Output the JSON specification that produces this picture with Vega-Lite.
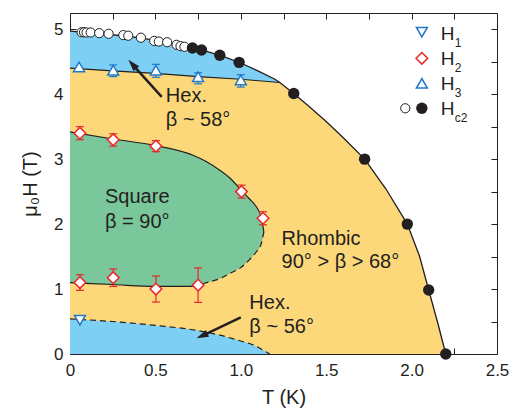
{
  "$schema": "https://vega.github.io/schema/vega-lite/v6.json",
  "width": 427,
  "height": 341,
  "autosize": {"type": "none"},
  "padding": {"left": 70, "top": 13, "right": 14, "bottom": 54},
  "config": {
    "font": "Liberation Sans",
    "view": {"stroke": null},
    "axis": {
      "domainColor": "#231f20", "tickColor": "#231f20", "labelColor": "#231f20", "titleColor": "#231f20",
      "labelFontSize": 17, "titleFontSize": 20, "titleFontWeight": "normal", "grid": false,
      "tickSize": -6, "zindex": 1, "labelFlush": false, "labelOverlap": false, "domainWidth": 1, "tickWidth": 1
    }
  },
  "datasets": {
    "bounds": [
      {"c": "hc2", "T": 0, "H": 4.97}, {"c": "hc2", "T": 0.1, "H": 4.95}, {"c": "hc2", "T": 0.2, "H": 4.93},
      {"c": "hc2", "T": 0.3, "H": 4.9}, {"c": "hc2", "T": 0.4, "H": 4.87}, {"c": "hc2", "T": 0.5, "H": 4.83},
      {"c": "hc2", "T": 0.6, "H": 4.78}, {"c": "hc2", "T": 0.7, "H": 4.72}, {"c": "hc2", "T": 0.8, "H": 4.66},
      {"c": "hc2", "T": 0.9, "H": 4.58}, {"c": "hc2", "T": 1.0, "H": 4.48}, {"c": "hc2", "T": 1.1, "H": 4.36},
      {"c": "hc2", "T": 1.2, "H": 4.23}, {"c": "hc2", "T": 1.228, "H": 4.18}, {"c": "hc2", "T": 1.31, "H": 4.01},
      {"c": "hc2", "T": 1.4, "H": 3.81}, {"c": "hc2", "T": 1.5, "H": 3.58}, {"c": "hc2", "T": 1.6, "H": 3.33},
      {"c": "hc2", "T": 1.725, "H": 3.0}, {"c": "hc2", "T": 1.85, "H": 2.54}, {"c": "hc2", "T": 1.975, "H": 2.0},
      {"c": "hc2", "T": 2.047, "H": 1.5}, {"c": "hc2", "T": 2.1, "H": 0.985}, {"c": "hc2", "T": 2.154, "H": 0.47},
      {"c": "hc2", "T": 2.2, "H": 0},
      {"c": "h3", "T": 0, "H": 4.4}, {"c": "h3", "T": 0.25, "H": 4.36}, {"c": "h3", "T": 0.5, "H": 4.32},
      {"c": "h3", "T": 0.75, "H": 4.27}, {"c": "h3", "T": 1.0, "H": 4.23}, {"c": "h3", "T": 1.228, "H": 4.18},
      {"c": "hexlow", "T": 0, "H": 0.54}, {"c": "hexlow", "T": 0.25, "H": 0.5}, {"c": "hexlow", "T": 0.5, "H": 0.44},
      {"c": "hexlow", "T": 0.75, "H": 0.36}, {"c": "hexlow", "T": 0.877, "H": 0.29}, {"c": "hexlow", "T": 1.0, "H": 0.2},
      {"c": "hexlow", "T": 1.073, "H": 0.14}, {"c": "hexlow", "T": 1.13, "H": 0.06}, {"c": "hexlow", "T": 1.17, "H": 0}
    ],
    "square": [
      {"T": 0, "H": 3.42, "H2": 1.1}, {"T": 0.25, "H": 3.31, "H2": 1.07}, {"T": 0.5, "H": 3.21, "H2": 1.04},
      {"T": 0.72, "H": 3.06, "H2": 1.04}, {"T": 0.8, "H": 2.96, "H2": 1.1}, {"T": 0.877, "H": 2.83, "H2": 1.16},
      {"T": 0.936, "H": 2.71, "H2": 1.24}, {"T": 1.0, "H": 2.53, "H2": 1.33}, {"T": 1.05, "H": 2.39, "H2": 1.45},
      {"T": 1.09, "H": 2.27, "H2": 1.57}, {"T": 1.12, "H": 2.1, "H2": 1.7}, {"T": 1.135, "H": 1.88, "H2": 1.88}
    ],
    "pts": [
      {"s": "H1", "T": 0.058, "H": 0.52},
      {"s": "H1", "T": 2.06, "H": 4.954},
      {"s": "H2", "T": 0.058, "H": 3.4, "elo": 3.3, "ehi": 3.5},
      {"s": "H2", "T": 0.253, "H": 3.3, "elo": 3.2, "ehi": 3.39},
      {"s": "H2", "T": 0.503, "H": 3.2, "elo": 3.115, "ehi": 3.285},
      {"s": "H2", "T": 1.004, "H": 2.5, "elo": 2.4, "ehi": 2.6},
      {"s": "H2", "T": 1.13, "H": 2.09, "elo": 1.99, "ehi": 2.19},
      {"s": "H2", "T": 0.058, "H": 1.1, "elo": 0.98, "ehi": 1.22},
      {"s": "H2", "T": 0.253, "H": 1.175, "elo": 1.04, "ehi": 1.31},
      {"s": "H2", "T": 0.503, "H": 1.0, "elo": 0.8, "ehi": 1.2},
      {"s": "H2", "T": 0.75, "H": 1.06, "elo": 0.795, "ehi": 1.325},
      {"s": "H2", "T": 2.06, "H": 4.553},
      {"s": "H3", "T": 0.053, "H": 4.42},
      {"s": "H3", "T": 0.253, "H": 4.37, "elo": 4.27, "ehi": 4.45},
      {"s": "H3", "T": 0.503, "H": 4.37, "elo": 4.26, "ehi": 4.46},
      {"s": "H3", "T": 0.75, "H": 4.27, "elo": 4.16, "ehi": 4.33},
      {"s": "H3", "T": 1.0, "H": 4.22, "elo": 4.11, "ehi": 4.3},
      {"s": "H3", "T": 2.06, "H": 4.168},
      {"s": "Hc2o", "T": 0.068, "H": 4.954}, {"s": "Hc2o", "T": 0.082, "H": 4.954}, {"s": "Hc2o", "T": 0.097, "H": 4.95},
      {"s": "Hc2o", "T": 0.121, "H": 4.95}, {"s": "Hc2o", "T": 0.171, "H": 4.94}, {"s": "Hc2o", "T": 0.226, "H": 4.93},
      {"s": "Hc2o", "T": 0.312, "H": 4.91}, {"s": "Hc2o", "T": 0.341, "H": 4.9}, {"s": "Hc2o", "T": 0.415, "H": 4.87},
      {"s": "Hc2o", "T": 0.493, "H": 4.82}, {"s": "Hc2o", "T": 0.52, "H": 4.81}, {"s": "Hc2o", "T": 0.569, "H": 4.8},
      {"s": "Hc2o", "T": 0.624, "H": 4.76}, {"s": "Hc2o", "T": 0.647, "H": 4.74}, {"s": "Hc2o", "T": 0.67, "H": 4.73},
      {"s": "Hc2o", "T": 1.963, "H": 3.783},
      {"s": "Hc2f", "T": 0.717, "H": 4.71}, {"s": "Hc2f", "T": 0.77, "H": 4.68}, {"s": "Hc2f", "T": 0.877, "H": 4.6},
      {"s": "Hc2f", "T": 0.99, "H": 4.49}, {"s": "Hc2f", "T": 1.31, "H": 4.01}, {"s": "Hc2f", "T": 1.725, "H": 3.0},
      {"s": "Hc2f", "T": 1.975, "H": 2.0}, {"s": "Hc2f", "T": 2.1, "H": 0.985}, {"s": "Hc2f", "T": 2.2, "H": 0},
      {"s": "Hc2f", "T": 2.06, "H": 3.783}
    ],
    "arrows": [
      {"id": "a1", "T": 0.537, "H": 3.96}, {"id": "a1", "T": 0.365, "H": 4.46},
      {"id": "a2", "T": 1.0, "H": 0.565}, {"id": "a2", "T": 0.773, "H": 0.28}
    ],
    "heads": [
      {"id": "a1", "T": 0.365, "H": 4.46},
      {"id": "a2", "T": 0.773, "H": 0.28}
    ],
    "labels": [
      {"T": 0.561, "H": 3.885, "text": "Hex."},
      {"T": 0.561, "H": 3.51, "text": "β ~ 58°"},
      {"T": 0.205, "H": 2.33, "text": "Square"},
      {"T": 0.205, "H": 1.935, "text": "β = 90°"},
      {"T": 1.239, "H": 1.68, "text": "Rhombic"},
      {"T": 1.239, "H": 1.32, "text": "90° > β > 68°"},
      {"T": 1.05, "H": 0.688, "text": "Hex."},
      {"T": 1.05, "H": 0.319, "text": "β ~ 56°"}
    ],
    "legend": [
      {"T": 2.17, "H": 4.835, "text": "H", "sub": "1"},
      {"T": 2.17, "H": 4.45, "text": "H", "sub": "2"},
      {"T": 2.17, "H": 4.065, "text": "H", "sub": "3"},
      {"T": 2.17, "H": 3.68, "text": "H", "sub": "c2"}
    ]
  },
  "encoding": {
    "x": {"field": "T", "type": "quantitative", "scale": {"domain": [0, 2.5], "nice": false, "zero": false}, "axis": null},
    "y": {"field": "H", "type": "quantitative", "scale": {"domain": [0, 5.25], "nice": false, "zero": false}, "axis": null}
  },
  "layer": [
    {
      "data": {"name": "bounds"},
      "transform": [{"filter": "datum.c == 'hc2'"}],
      "mark": {"type": "area", "color": "#7dd0f4", "interpolate": "linear"},
      "encoding": {
        "x": {"field": "T", "type": "quantitative", "scale": {"domain": [0, 2.5], "nice": false, "zero": false},
          "axis": {"orient": "bottom", "values": [0, 0.25, 0.5, 0.75, 1, 1.25, 1.5, 1.75, 2, 2.25, 2.5],
            "labelExpr": "datum.value % 0.5 == 0 ? (datum.value == 0 ? '0' : format(datum.value, '.1f')) : ''",
            "labelPadding": 14, "title": "T (K)", "titlePadding": 9}},
        "y": {"field": "H", "type": "quantitative", "scale": {"domain": [0, 5.25], "nice": false, "zero": false},
          "axis": {"orient": "left", "values": [0, 0.5, 1, 1.5, 2, 2.5, 3, 3.5, 4, 4.5, 5],
            "labelExpr": "datum.value % 1 == 0 ? format(datum.value, 'd') : ''",
            "labelPadding": 13, "title": "μ₀H (T)", "titlePadding": 13}}
      }
    },
    {
      "data": {"name": "bounds"},
      "transform": [{"filter": "datum.c == 'h3' || (datum.c == 'hc2' && datum.T > 1.228)"}],
      "mark": {"type": "area", "color": "#fcd87a", "interpolate": "linear"},
      "encoding": {
        "x": {"field": "T", "type": "quantitative", "scale": {"domain": [0, 2.5], "nice": false, "zero": false},
          "axis": {"orient": "top", "values": [0, 0.25, 0.5, 0.75, 1, 1.25, 1.5, 1.75, 2, 2.25, 2.5], "labels": false, "title": null}},
        "y": {"field": "H", "type": "quantitative", "scale": {"domain": [0, 5.25], "nice": false, "zero": false},
          "axis": {"orient": "right", "values": [0, 0.5, 1, 1.5, 2, 2.5, 3, 3.5, 4, 4.5, 5], "labels": false, "title": null}}
      }
    },
    {
      "data": {"name": "bounds"},
      "transform": [{"filter": "datum.c == 'hexlow'"}],
      "mark": {"type": "area", "color": "#7dd0f4", "interpolate": "monotone"}
    },
    {
      "data": {"name": "square"},
      "mark": {"type": "area", "color": "#7ac79b", "interpolate": "monotone"},
      "encoding": {"y2": {"field": "H2"}}
    },
    {
      "data": {"name": "bounds"},
      "transform": [{"filter": "datum.c == 'hc2'"}],
      "mark": {"type": "line", "color": "#231f20", "strokeWidth": 1.3, "interpolate": "linear"}
    },
    {
      "data": {"name": "bounds"},
      "transform": [{"filter": "datum.c == 'h3'"}],
      "mark": {"type": "line", "color": "#231f20", "strokeWidth": 1.2}
    },
    {
      "data": {"name": "bounds"},
      "transform": [{"filter": "datum.c == 'hexlow'"}],
      "mark": {"type": "line", "color": "#231f20", "strokeWidth": 1.2, "strokeDash": [6, 4], "interpolate": "monotone"}
    },
    {
      "data": {"name": "square"},
      "mark": {"type": "line", "color": "#231f20", "strokeWidth": 1.2, "interpolate": "monotone"}
    },
    {
      "data": {"name": "square"},
      "transform": [{"filter": "datum.T <= 0.72"}],
      "mark": {"type": "line", "color": "#231f20", "strokeWidth": 1.2, "interpolate": "monotone"},
      "encoding": {"y": {"field": "H2", "type": "quantitative", "scale": {"domain": [0, 5.25], "nice": false, "zero": false}, "axis": null}}
    },
    {
      "data": {"name": "square"},
      "transform": [{"filter": "datum.T >= 0.72"}],
      "mark": {"type": "line", "color": "#231f20", "strokeWidth": 1.2, "strokeDash": [6, 4], "interpolate": "monotone"},
      "encoding": {"y": {"field": "H2", "type": "quantitative", "scale": {"domain": [0, 5.25], "nice": false, "zero": false}, "axis": null}}
    },
    {
      "data": {"name": "arrows"},
      "mark": {"type": "line", "color": "#231f20", "strokeWidth": 2.5},
      "encoding": {"detail": {"field": "id"}}
    },
    {
      "data": {"name": "heads"},
      "transform": [{"filter": "datum.id == 'a1'"}],
      "mark": {"type": "point", "shape": "M0,-1.2L0.75,1.2L-0.75,1.2Z", "filled": true, "fill": "#231f20", "strokeWidth": 0, "size": 100, "angle": 318, "opacity": 1}
    },
    {
      "data": {"name": "heads"},
      "transform": [{"filter": "datum.id == 'a2'"}],
      "mark": {"type": "point", "shape": "M0,-1.2L0.75,1.2L-0.75,1.2Z", "filled": true, "fill": "#231f20", "strokeWidth": 0, "size": 100, "angle": 245, "opacity": 1}
    },
    {
      "data": {"name": "pts"},
      "transform": [{"filter": "isValid(datum.elo)"}],
      "mark": {"type": "rule", "strokeWidth": 1.2},
      "encoding": {
        "y": {"field": "elo", "type": "quantitative", "scale": {"domain": [0, 5.25], "nice": false, "zero": false}, "axis": null},
        "y2": {"field": "ehi"},
        "color": {"field": "s", "type": "nominal", "scale": {"domain": ["H1", "H2", "H3"], "range": ["#1f78c8", "#e8262c", "#1f78c8"]}, "legend": null}
      }
    },
    {
      "data": {"name": "pts"},
      "transform": [{"filter": "isValid(datum.elo)"}],
      "mark": {"type": "tick", "orient": "horizontal", "size": 8, "thickness": 1.2, "opacity": 1},
      "encoding": {
        "y": {"field": "elo", "type": "quantitative", "scale": {"domain": [0, 5.25], "nice": false, "zero": false}, "axis": null},
        "color": {"field": "s", "type": "nominal", "scale": {"domain": ["H1", "H2", "H3"], "range": ["#1f78c8", "#e8262c", "#1f78c8"]}, "legend": null}
      }
    },
    {
      "data": {"name": "pts"},
      "transform": [{"filter": "isValid(datum.elo)"}],
      "mark": {"type": "tick", "orient": "horizontal", "size": 8, "thickness": 1.2, "opacity": 1},
      "encoding": {
        "y": {"field": "ehi", "type": "quantitative", "scale": {"domain": [0, 5.25], "nice": false, "zero": false}, "axis": null},
        "color": {"field": "s", "type": "nominal", "scale": {"domain": ["H1", "H2", "H3"], "range": ["#1f78c8", "#e8262c", "#1f78c8"]}, "legend": null}
      }
    },
    {
      "data": {"name": "pts"},
      "transform": [{"filter": "datum.s == 'H1'"}],
      "mark": {"type": "point", "shape": "triangle-down", "filled": true, "fill": "white", "stroke": "#1f78c8", "strokeWidth": 1.5, "size": 120, "opacity": 1}
    },
    {
      "data": {"name": "pts"},
      "transform": [{"filter": "datum.s == 'H2'"}],
      "mark": {"type": "point", "shape": "diamond", "filled": true, "fill": "white", "stroke": "#e8262c", "strokeWidth": 1.5, "size": 135, "opacity": 1}
    },
    {
      "data": {"name": "pts"},
      "transform": [{"filter": "datum.s == 'H3'"}],
      "mark": {"type": "point", "shape": "triangle-up", "filled": true, "fill": "white", "stroke": "#1f78c8", "strokeWidth": 1.5, "size": 120, "opacity": 1}
    },
    {
      "data": {"name": "pts"},
      "transform": [{"filter": "datum.s == 'Hc2o'"}],
      "mark": {"type": "point", "shape": "circle", "filled": true, "fill": "white", "stroke": "#231f20", "strokeWidth": 1, "size": 85, "opacity": 1}
    },
    {
      "data": {"name": "pts"},
      "transform": [{"filter": "datum.s == 'Hc2f'"}],
      "mark": {"type": "point", "shape": "circle", "filled": true, "color": "#231f20", "size": 130, "opacity": 1}
    },
    {
      "data": {"name": "labels"},
      "mark": {"type": "text", "align": "left", "baseline": "alphabetic", "fontSize": 20, "color": "#231f20"},
      "encoding": {"text": {"field": "text"}}
    },
    {
      "data": {"name": "legend"},
      "mark": {"type": "text", "align": "left", "baseline": "alphabetic", "fontSize": 19, "color": "#231f20"},
      "encoding": {"text": {"field": "text"}}
    },
    {
      "data": {"name": "legend"},
      "mark": {"type": "text", "align": "left", "baseline": "alphabetic", "fontSize": 12, "dx": 14, "dy": 7, "color": "#231f20"},
      "encoding": {"text": {"field": "sub"}}
    }
  ],
  "resolve": {"axis": {"x": "independent", "y": "independent"}}
}
